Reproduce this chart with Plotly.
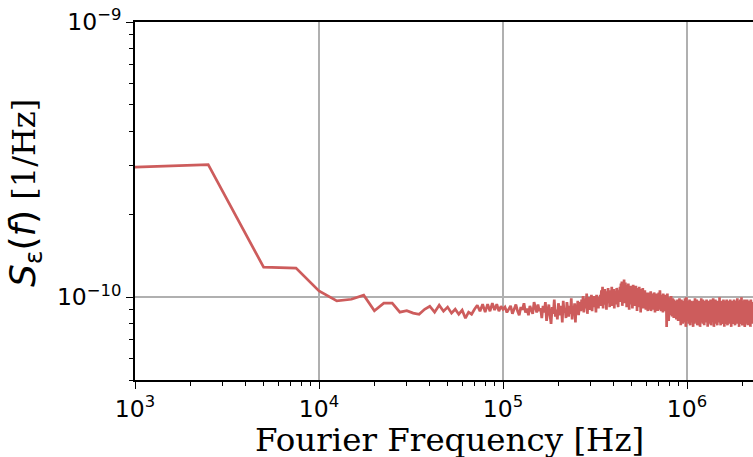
import numpy as np
import plotly.graph_objects as go

# Frequency grid: first point at 1 kHz, then FFT bins spaced 2.5 kHz
first_freq_hz = 1000.0
bin_width_hz = 2500.0

# PSD values in units of 1e-11 1/Hz
psd_first = [29.7]
psd_low = [30.3, 12.85, 12.75, 10.54, 9.69, 9.83, 10.17, 8.93, 9.51, 9.51,
           8.82, 8.93, 8.75, 8.67, 9.04, 9.27, 8.82, 9.35, 8.89, 9.2,
           8.75, 9.04, 8.67, 8.97, 8.39, 8.82, 8.67, 9.04, 9.35, 8.89,
           9.43, 8.82, 9.43, 8.89, 9.51, 8.97, 9.43, 8.89, 9.27, 9.04]
psd_mid1 = [9.2, 8.8, 9.0, 9.3, 8.7, 9.1, 9.4, 8.9, 8.6, 9.2, 9.0, 9.5, 8.8, 9.1, 8.6, 9.3, 9.0, 8.7, 9.6, 9.1, 8.8, 9.4, 8.9]
psd_mid2 = [9.1, 8.4, 9.3, 8.8, 9.6, 8.2, 8.9, 9.4, 8.6, 8.0, 9.2, 8.7, 9.8, 8.5, 9.0, 8.3, 9.5, 8.9, 8.6, 9.3,
            8.1, 9.7, 8.8, 9.1, 8.4, 9.6, 8.9, 8.5, 9.3, 8.7, 9.9, 8.3, 9.2, 8.8, 9.5, 8.1, 9.4, 8.9, 9.7, 8.6, 9.2]
psd_mid3 = [9.6, 8.9, 9.8, 9.2, 10.1, 8.8, 9.5, 9.9, 9.1, 10.3, 8.7, 9.7, 9.3, 10.0, 9.0, 9.6, 10.2, 8.9, 9.8, 9.4,
            10.1, 9.2, 9.7, 8.8, 10.2, 9.5, 9.9, 9.1, 10.0, 9.6]
psd_rise = [10.2, 9.3, 10.6, 9.7, 10.9, 9.1, 10.4, 9.9, 10.7, 9.4, 10.1, 9.0, 10.5, 9.8, 10.8, 9.5, 10.3, 9.2, 10.6, 10.0,
            9.6, 10.9, 9.3, 10.4, 9.9, 10.7, 9.1, 10.2, 9.7, 10.5, 9.4, 10.8, 9.9, 10.3, 9.2, 10.6, 9.8, 10.4]
psd_peak = [10.9, 9.6, 11.2, 10.1, 11.4, 9.3, 10.7, 11.0, 9.8, 11.6, 10.4, 9.5, 11.3, 10.0, 10.8, 9.2, 11.1, 10.5, 9.7, 11.2,
            10.2, 9.0, 10.9, 10.6, 9.4, 11.0, 10.3, 9.8, 10.8, 9.1, 10.5, 11.1, 9.6, 10.2, 10.9, 9.3, 10.7, 9.9, 11.0, 9.5,
            10.4, 8.9, 10.8, 10.1, 9.7, 10.6, 9.2, 10.9, 10.3, 9.6, 10.5, 8.8, 10.7, 10.0, 9.4, 10.6, 9.9, 10.8, 9.1, 10.3,
            9.7, 10.5, 9.3, 10.6, 9.8, 10.2, 9.0, 10.4]
psd_fall = [9.9, 9.2, 10.3, 9.6, 8.9, 10.1, 9.4, 10.4, 9.0, 9.8, 10.2, 9.3, 9.7, 10.5, 8.9, 9.6, 10.0, 9.2, 10.3, 9.5,
            9.1, 10.1, 9.7, 9.0, 10.4, 9.4, 9.8, 8.8, 10.2, 9.6, 9.3, 10.0, 9.1, 10.3, 9.5, 9.9, 8.9, 10.1, 9.4, 9.7,
            10.4, 9.2, 9.8, 9.0, 10.6, 9.5, 9.3, 10.1, 8.9, 9.7, 10.2, 9.4, 9.0, 10.0, 9.6, 8.8, 10.3, 9.3, 9.9, 9.1,
            10.0, 9.5, 8.9, 10.2, 9.3, 9.7, 9.0, 10.1, 9.4, 7.8, 9.6, 9.1, 10.3, 8.8, 9.5, 9.9, 9.0, 8.2, 9.7, 9.2,
            10.0, 8.9, 9.4, 9.8, 8.6, 9.5, 9.1, 10.1, 8.8, 9.3, 9.7, 8.5, 9.6, 9.0, 9.9, 8.7, 9.4, 9.1, 8.4, 9.8,
            8.9, 9.3, 8.6, 9.7, 9.0, 8.4, 9.5, 8.8, 9.2, 8.3, 9.6, 8.9, 9.1, 8.5, 9.8, 8.7, 9.3, 8.2, 9.4, 9.0,
            8.6, 9.5, 8.8, 9.9, 8.4]
psd_high = [
    9.2, 8.4, 9.6, 8.8, 7.9, 9.3, 8.6, 9.8, 8.2, 9.0, 9.5, 8.5, 9.1, 8.0, 9.7, 8.7, 9.4, 8.3, 9.0, 8.9,
    9.6, 8.1, 9.2, 8.7, 9.9, 8.4, 8.9, 9.3, 7.8, 9.5, 8.6, 10.0, 8.8, 9.1, 8.2, 9.7, 8.5, 9.0, 9.4, 8.3,
    9.1, 8.7, 9.6, 8.0, 9.3, 8.9, 8.4, 9.8, 8.6, 9.2, 7.9, 9.5, 8.8, 9.0, 8.3, 9.7, 8.5, 9.4, 8.1, 9.2,
    8.8, 9.6, 8.2, 9.0, 8.7, 9.5, 7.8, 9.3, 8.9, 8.4, 9.7, 8.6, 9.1, 8.0, 9.4, 8.8, 9.9, 8.3, 9.2, 8.5,
    9.0, 8.7, 9.6, 8.1, 9.3, 8.9, 9.8, 8.4, 9.1, 7.9, 9.5, 8.6, 9.2, 8.8, 9.7, 8.2, 9.0, 9.4, 8.5, 8.9,
    9.6, 8.3, 9.2, 8.7, 9.4, 7.8, 9.0, 8.8, 9.7, 8.4, 9.3, 8.6, 9.9, 8.1, 9.1, 8.9, 9.5, 8.2, 9.0, 8.7,
    9.3, 8.5, 9.8, 8.0, 9.2, 8.8, 9.6, 8.4, 8.9, 9.4, 7.9, 9.1, 8.6, 9.5, 8.3, 9.0, 8.7, 9.7, 8.2, 9.3,
    8.9, 9.5, 8.4, 9.1, 8.7, 9.8, 8.1, 9.2, 8.8, 9.6, 8.3, 9.0, 7.8, 9.4, 8.6, 9.1, 8.9, 9.7, 8.5, 9.2,
    8.0, 9.3, 8.7, 9.6, 8.4, 9.0, 8.9, 9.5, 8.2, 9.2, 8.6, 9.8, 8.8, 9.1, 7.9, 9.4, 8.5, 9.0, 8.7, 9.6,
    8.3, 9.2, 8.9, 9.7, 8.1, 9.0, 8.6, 9.4, 8.8, 9.9, 8.4, 9.1, 8.7, 9.5, 7.8, 9.3, 8.5, 9.0, 8.9, 9.6,
    8.2, 9.4, 8.7, 9.1, 8.5, 9.8, 8.0, 9.2, 8.8, 9.5, 8.3, 9.0, 8.9, 9.7, 8.4, 9.3, 8.6, 9.1, 7.9, 9.6,
    8.7, 9.2, 8.4, 9.5, 8.9, 9.0, 8.1, 9.7, 8.6, 9.3, 8.8, 9.4, 8.2, 9.1, 8.7, 10.0, 8.5, 9.2, 8.9, 9.6,
    8.3, 9.0, 8.8, 9.4, 7.9, 9.3, 8.6, 9.7, 8.4, 9.1, 8.9, 9.5, 8.0, 9.2, 8.7, 9.6, 8.5, 9.0, 8.8, 9.3,
    8.1, 9.6, 8.7, 9.2, 8.4, 9.8, 8.9, 9.0, 8.3, 9.5, 8.6, 9.1, 7.8, 9.4, 8.8, 9.3, 8.5, 9.7, 8.2, 9.0,
    8.9, 9.4, 8.6, 9.1, 8.0, 9.6, 8.7, 9.3, 8.4, 9.0, 8.9, 9.8, 8.2, 9.2, 8.8, 9.5, 8.5, 9.1, 7.9, 9.4,
    8.6, 9.0, 8.8, 9.7, 8.3, 9.2, 8.7, 9.5, 8.1, 9.3, 8.9, 9.0, 8.4, 9.6, 8.6, 9.1, 8.0, 9.4, 8.8, 9.2,
    8.5, 9.8, 8.7, 9.0, 8.2, 9.3, 8.9, 9.6, 8.4, 9.1, 7.8, 9.5, 8.6, 9.2, 8.8, 9.4, 8.3, 9.0, 8.7, 9.7,
    8.1, 9.2, 8.9, 9.5, 8.4, 9.0, 8.6, 9.3, 8.0, 9.6, 8.8, 9.1, 8.5, 9.4, 8.2, 9.8, 8.7, 9.0, 8.9, 9.3,
    8.3, 9.5, 8.6, 9.1, 7.9, 9.2, 8.8, 9.7, 8.4, 9.0, 8.7, 9.4, 8.1, 9.3, 8.9, 9.6, 8.5, 9.1, 8.2, 9.0,
    8.8, 9.4, 8.6, 9.2, 8.3, 9.9, 8.7, 9.0, 8.0, 9.5, 8.9, 9.1, 8.4, 9.3, 8.6, 9.7, 8.2, 9.0, 8.8, 9.4,
    8.5, 9.1, 7.8, 9.6, 8.7, 9.2, 8.4, 9.0, 8.9, 9.5, 8.1, 9.3, 8.6, 9.8, 8.8, 9.0, 8.3, 9.4, 8.7, 9.2,
    8.0, 9.6, 8.9, 9.1, 8.5, 10.0, 8.7, 9.3, 8.2, 9.0, 8.8, 9.5, 8.4, 9.2, 7.9, 9.4, 8.6, 9.1, 8.9, 9.7,
    8.3, 9.0, 8.7, 9.5, 8.1, 9.3, 8.8, 9.6, 8.5, 9.1, 8.2, 9.4, 8.9, 9.0, 8.4, 9.8, 8.6, 9.2, 7.8, 9.3,
    8.7, 9.5, 8.3, 9.1, 8.9, 9.4, 8.0, 9.2, 8.6, 9.7, 8.8, 9.0, 8.4, 9.6, 8.2, 9.3, 8.9, 9.1, 8.5, 9.4,
    8.1, 9.2, 8.8, 9.8, 8.6, 9.0, 8.3, 9.5, 8.7, 9.1, 7.9, 9.4, 8.9, 9.2, 8.4, 9.6, 8.5, 9.0, 8.8, 9.3,
    8.2, 9.7, 8.6, 9.1, 8.9, 9.4, 8.0, 9.2, 8.7, 9.5, 8.4, 9.0, 8.8, 9.6, 8.3, 9.3, 8.5, 9.1, 7.8, 9.4,
    8.9, 9.2, 8.6, 9.8, 8.4, 9.0, 8.7, 9.5, 8.1, 9.3, 8.8, 9.1, 8.5, 9.6, 8.2, 9.4, 8.9, 9.0, 8.6, 9.2,
    8.3, 9.5, 8.7, 9.1, 8.0, 9.4, 8.8, 9.0, 8.5, 9.6, 8.7]

x_tick_vals = [1e3, 1e4, 1e5, 1e6]
x_tick_text = ["10<sup>3</sup>", "10<sup>4</sup>", "10<sup>5</sup>", "10<sup>6</sup>"]
y_tick_vals = [1e-10, 1e-9]
y_tick_text = ["10<sup>\u221210</sup>", "10<sup>\u22129</sup>"]
x_minor_vals = [m * 10 ** e for e in (3, 4, 5) for m in range(2, 10)] + [2e6]
y_minor_vals = [m * 1e-11 for m in range(5, 10)] + [m * 1e-10 for m in range(2, 10)]

unit = 1e-11
psd_all = psd_low + psd_mid1 + psd_mid2 + psd_mid3 + psd_rise + psd_peak + psd_fall + psd_high
freqs = [first_freq_hz] + list(bin_width_hz * np.arange(1, len(psd_all) + 1))
psd = np.array(psd_first + psd_all) * unit

fig = go.Figure()
fig.add_trace(go.Scatter(x=freqs, y=psd, mode="lines",
                         line=dict(color="#cd5c5c", width=2.7), showlegend=False))

x_lo, x_hi = 3.0, 3.0 + 618 / 184
fig.update_layout(
    width=753, height=457,
    margin=dict(l=135, r=0, t=22, b=77),
    paper_bgcolor="white", plot_bgcolor="white",
    font=dict(family="DejaVu Sans", size=23, color="black"),
    xaxis=dict(type="log", range=[x_lo, x_hi], tickvals=x_tick_vals, ticktext=x_tick_text,
               ticks="outside", ticklen=7, tickwidth=1.4, tickcolor="black",
               showline=True, linecolor="black", linewidth=1.6, mirror=True,
               showgrid=True, gridcolor="#b0b0b0", gridwidth=1.5, zeroline=False,
               tickfont=dict(family="DejaVu Sans", size=23.5),
               minor=dict(tickvals=x_minor_vals, ticks="outside", ticklen=4, tickwidth=1.1,
                          tickcolor="black", showgrid=False)),
    yaxis=dict(type="log", range=[np.log10(5e-11), -9], tickvals=y_tick_vals, ticktext=y_tick_text,
               ticks="outside", ticklen=7, tickwidth=1.4, tickcolor="black",
               showline=True, linecolor="black", linewidth=1.6, mirror=False,
               showgrid=True, gridcolor="#b0b0b0", gridwidth=1.5, zeroline=False,
               tickfont=dict(family="DejaVu Sans", size=23.5),
               minor=dict(tickvals=y_minor_vals, ticks="outside", ticklen=4, tickwidth=1.1,
                          tickcolor="black", showgrid=False)),
)

fig.add_annotation(xref="paper", yref="paper", x=(449 - 135) / 618, y=(379.8 - 440) / 357.8,
                   text="Fourier Frequency [Hz]", showarrow=False, xanchor="center", yanchor="middle",
                   font=dict(family="DejaVu Serif", size=32.5))
fig.add_annotation(xref="paper", yref="paper", x=(25 - 135) / 618, y=(379.8 - 193) / 357.8,
                   text="<span style='font-size:36px'><i>S</i><sub>\u03b5</sub>(<i>f</i>)</span>"
                        " <span style='font-family:DejaVu Serif'>[1/Hz]</span>",
                   textangle=-90, showarrow=False, xanchor="center", yanchor="middle",
                   font=dict(family="DejaVu Sans", size=32))

fig.write_html("out.html")
